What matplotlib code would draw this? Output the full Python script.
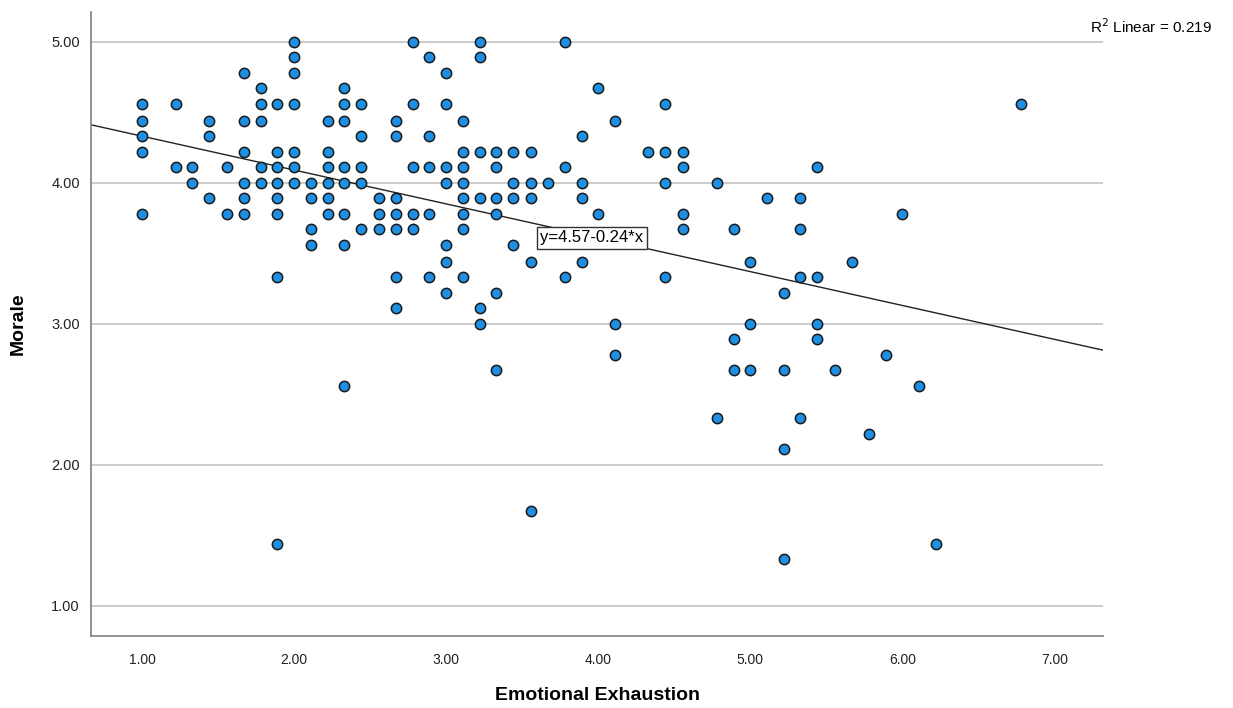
import numpy as np
import matplotlib
matplotlib.use('Agg')
import matplotlib.pyplot as plt

plt.rcParams['font.family'] = ['Liberation Sans', 'DejaVu Sans']

# Morale values for each Emotional Exhaustion score
points = {
    1.00: [4.56, 4.44, 4.33, 4.22, 3.78],
    1.22: [4.56, 4.11],
    1.33: [4.11, 4.00],
    1.44: [4.44, 4.33, 3.89],
    1.56: [4.11, 3.78],
    1.67: [4.78, 4.44, 4.22, 4.00, 3.89, 3.78],
    1.78: [4.67, 4.56, 4.44, 4.11, 4.00],
    1.89: [4.56, 4.22, 4.11, 4.00, 3.89, 3.78, 3.33, 1.44],
    2.00: [5.00, 4.89, 4.78, 4.56, 4.22, 4.11, 4.00],
    2.11: [4.00, 3.89, 3.67, 3.56],
    2.22: [4.44, 4.22, 4.11, 4.00, 3.89, 3.78],
    2.33: [4.67, 4.56, 4.44, 4.11, 4.00, 3.78, 3.56, 2.56],
    2.44: [4.56, 4.33, 4.11, 4.00, 3.67],
    2.56: [3.89, 3.78, 3.67],
    2.67: [4.44, 4.33, 3.89, 3.78, 3.67, 3.33, 3.11],
    2.78: [5.00, 4.56, 4.11, 3.78, 3.67],
    2.89: [4.89, 4.33, 4.11, 3.78, 3.33],
    3.00: [4.78, 4.56, 4.11, 4.00, 3.56, 3.44, 3.22],
    3.11: [4.44, 4.22, 4.11, 4.00, 3.89, 3.78, 3.67, 3.33],
    3.22: [5.00, 4.89, 4.22, 3.89, 3.11, 3.00],
    3.33: [4.22, 4.11, 3.89, 3.78, 3.22, 2.67],
    3.44: [4.22, 4.00, 3.89, 3.56],
    3.56: [4.22, 4.00, 3.89, 3.44, 1.67],
    3.67: [4.00],
    3.78: [5.00, 4.11, 3.33],
    3.89: [4.33, 4.00, 3.89, 3.44],
    4.00: [4.67, 3.78],
    4.11: [4.44, 3.00, 2.78],
    4.33: [4.22],
    4.44: [4.56, 4.22, 4.00, 3.33],
    4.56: [4.22, 4.11, 3.78, 3.67],
    4.78: [4.00, 2.33],
    4.89: [3.67, 2.89, 2.67],
    5.00: [3.44, 3.00, 2.67],
    5.11: [3.89],
    5.22: [3.22, 2.67, 2.11, 1.33],
    5.33: [3.89, 3.67, 3.33, 2.33],
    5.44: [4.11, 3.33, 3.00, 2.89],
    5.56: [2.67],
    5.67: [3.44],
    5.78: [2.22],
    5.89: [2.78],
    6.00: [3.78],
    6.11: [2.56],
    6.22: [1.44],
    6.78: [4.56],
}

intercept = 4.57
slope = -0.24
r2_text = 'R$^2$ Linear = 0.219'
eq_text = 'y=4.57-0.24*x'

x_ticks = [1, 2, 3, 4, 5, 6, 7]
y_ticks = [1, 2, 3, 4, 5]


def main():
    xs = []
    ys = []
    for k, vals in points.items():
        for v in vals:
            xs.append(k)
            ys.append(v)

    fig = plt.figure(figsize=(12.33, 7.08), dpi=100)
    ax = fig.add_axes([0.0738, 0.1017, 0.8208, 0.8813])

    ax.set_xlim(0.664, 7.32)
    ax.set_ylim(0.787, 5.21)

    for t in y_ticks:
        ax.axhline(t, color='#c4c4c4', lw=1.2, zorder=0)

    ax.scatter(xs, ys, s=55, c='#1e8fe3', edgecolors='#1a1a1a',
               linewidths=1.1, zorder=3)

    lx = np.array(ax.get_xlim())
    ax.plot(lx, intercept + slope * lx, color='#222222', lw=1.0, zorder=2)

    ax.text(3.62, 3.61, eq_text, fontsize=12, va='center', ha='left',
            zorder=4,
            bbox=dict(boxstyle='square,pad=0.2', fc='white', ec='#333333', lw=1))

    ax.set_xticks(x_ticks)
    ax.set_xticklabels(['%.2f' % t for t in x_ticks], fontsize=10)
    ax.set_yticks(y_ticks)
    ax.set_yticklabels(['%.2f' % t for t in y_ticks], fontsize=10.5)
    ax.tick_params(axis='both', length=0, pad=12, colors='#222222')
    ax.tick_params(axis='y', pad=8)

    for side in ['top', 'right']:
        ax.spines[side].set_visible(False)
    for side in ['left', 'bottom']:
        ax.spines[side].set_color('#8a8a8a')
        ax.spines[side].set_linewidth(1.3)

    ax.set_xlabel('Emotional Exhaustion', fontsize=14, fontweight='bold',
                  va='center')
    ax.xaxis.set_label_coords(0.5, -0.095)
    ax.set_ylabel('Morale', fontsize=14, fontweight='bold', va='center')
    ax.yaxis.set_label_coords(-0.072, 0.5)

    fig.text(0.884, 0.963, r2_text, fontsize=11, ha='left', va='center')

    fig.savefig('out.png', dpi=100)


if __name__ == '__main__':
    main()
